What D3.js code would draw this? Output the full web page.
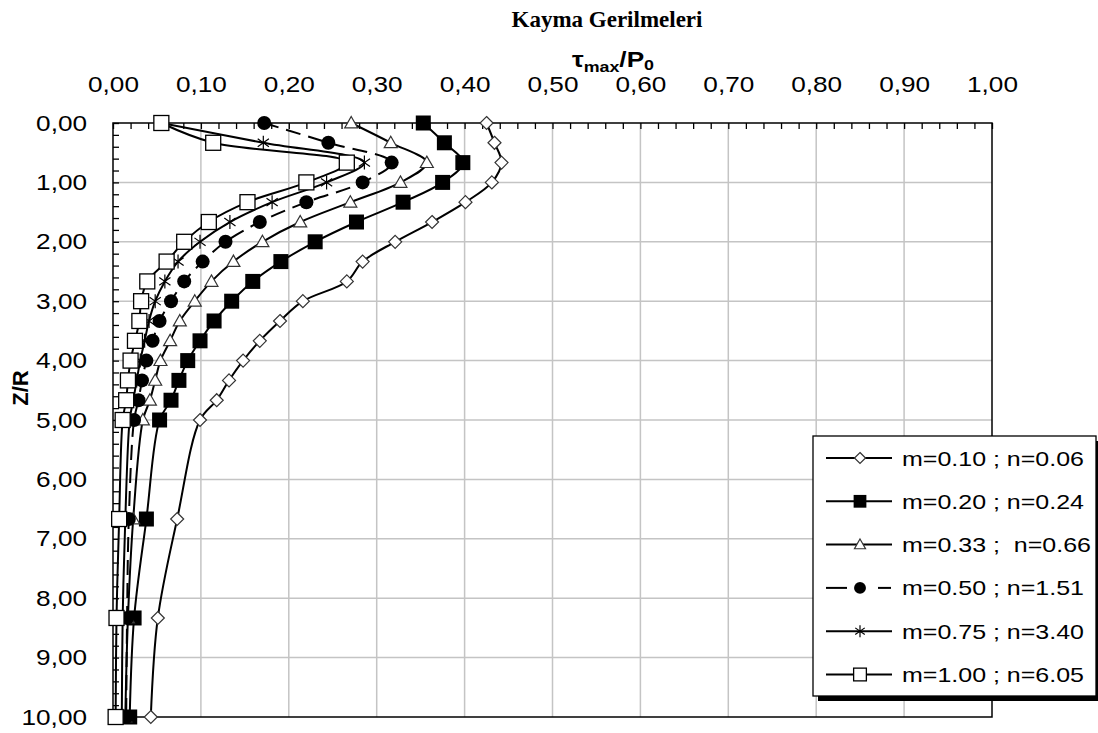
<!DOCTYPE html>
<html>
<head>
<meta charset="utf-8">
<script src="https://cdn.jsdelivr.net/npm/d3@7"></script>
<style>
  body { margin: 0; background: #fff; }
  svg { display: block; }
</style>
</head>
<body>
<div id="display"></div>
<script>
// depth values Z/R (rows)
const zValues = [0, 0.333, 0.667, 1, 1.333, 1.667, 2, 2.333, 2.667, 3, 3.333, 3.667, 4, 4.333, 4.667, 5, 6.667, 8.333, 10];

// tau_max / P0 for every series
const m010 = [0.425, 0.434, 0.442, 0.431, 0.401, 0.363, 0.321, 0.284, 0.266, 0.216, 0.190, 0.167, 0.148, 0.132, 0.118, 0.099, 0.073, 0.051, 0.043];
const m020 = [0.353, 0.377, 0.398, 0.375, 0.330, 0.277, 0.230, 0.191, 0.159, 0.135, 0.115, 0.099, 0.085, 0.075, 0.066, 0.053, 0.038, 0.024, 0.019];
const m033 = [0.271, 0.316, 0.357, 0.327, 0.270, 0.213, 0.170, 0.137, 0.112, 0.093, 0.076, 0.065, 0.054, 0.048, 0.042, 0.034, 0.023, 0.017, 0.014];
const m050 = [0.172, 0.245, 0.317, 0.284, 0.220, 0.167, 0.128, 0.102, 0.081, 0.066, 0.053, 0.045, 0.038, 0.033, 0.029, 0.024, 0.018, 0.016, 0.015];
const m075 = [0.055, 0.171, 0.286, 0.243, 0.181, 0.133, 0.099, 0.074, 0.059, 0.048, 0.041, 0.036, 0.031, 0.027, 0.023, 0.019, 0.014, 0.011, 0.010];
const m100 = [0.055, 0.114, 0.266, 0.220, 0.153, 0.109, 0.081, 0.061, 0.039, 0.032, 0.030, 0.025, 0.020, 0.017, 0.015, 0.011, 0.007, 0.004, 0.003];

const seriesNames = ['m=0.10 ; n=0.06', 'm=0.20 ; n=0.24', 'm=0.33 ;  n=0.66', 'm=0.50 ; n=1.51', 'm=0.75 ; n=3.40', 'm=1.00 ; n=6.05'];
const seriesValues = [m010, m020, m033, m050, m075, m100];
const seriesMarkers = ['diamond', 'filledSquare', 'triangle', 'circle', 'asterisk', 'square'];
const seriesDashed = [false, false, false, true, false, false];

const xTicks = [0, 0.1, 0.2, 0.3, 0.4, 0.5, 0.6, 0.7, 0.8, 0.9, 1.0];
const yTicks = [0, 1, 2, 3, 4, 5, 6, 7, 8, 9, 10];

const titleText = 'Kayma Gerilmeleri';
const yTitle = 'Z/R';

const svg = d3.select('#display')
    .append('svg')
    .attr('width', 1098)
    .attr('height', 733);

const sx = 1.19; // the original text is a bit wide
const pLeft = 113, pRight = 992, pTop = 123, pBottom = 717;

const x = d3.scaleLinear().domain([0, 1]).range([pLeft, pRight]);
const y = d3.scaleLinear().domain([0, 10]).range([pTop, pBottom]);
const fmt = v => d3.format('.2f')(v).replace('.', ',');

// grid
svg.append('g')
    .selectAll('line')
    .data(xTicks.slice(1, -1))
    .join('line')
    .attr('x1', d => x(d)).attr('x2', d => x(d))
    .attr('y1', pTop).attr('y2', pBottom)
    .attr('stroke', '#c4c4c4').attr('stroke-width', 1.5);

svg.append('g')
    .selectAll('line')
    .data(yTicks.slice(1, -1))
    .join('line')
    .attr('x1', pLeft).attr('x2', pRight)
    .attr('y1', d => y(d)).attr('y2', d => y(d))
    .attr('stroke', '#c4c4c4').attr('stroke-width', 1.5);

// minor ticks inside the frame
const topMinor = svg.append('g')
    .attr('transform', `translate(0,${pTop})`)
    .call(d3.axisTop(x).tickValues(d3.range(0, 1.001, 0.02)).tickSize(-6).tickFormat(''));
topMinor.select('.domain').remove();
topMinor.selectAll('line').attr('stroke', '#000').attr('stroke-width', 1.3);

const leftMinor = svg.append('g')
    .attr('transform', `translate(${pLeft},0)`)
    .call(d3.axisLeft(y).tickValues(d3.range(0, 10.001, 0.2)).tickSize(-6).tickFormat(''));
leftMinor.select('.domain').remove();
leftMinor.selectAll('line').attr('stroke', '#000').attr('stroke-width', 1.3);

// tick labels
const xAxis = svg.append('g')
    .attr('transform', `translate(0,${pTop})`)
    .call(d3.axisTop(x).tickValues(xTicks).tickSize(0).tickPadding(31).tickFormat(fmt));
xAxis.select('.domain').remove();
xAxis.selectAll('text')
    .attr('font-family', 'Liberation Sans, Arial, sans-serif')
    .attr('font-size', 22)
    .attr('fill', '#000')
    .attr('transform', `scale(${sx},1)`);

const yAxis = svg.append('g')
    .attr('transform', `translate(${pLeft},0)`)
    .call(d3.axisLeft(y).tickValues(yTicks).tickSize(0).tickFormat(fmt));
yAxis.select('.domain').remove();
yAxis.selectAll('text')
    .attr('x', -26 / sx)
    .attr('font-family', 'Liberation Sans, Arial, sans-serif')
    .attr('font-size', 22)
    .attr('fill', '#000')
    .attr('transform', `scale(${sx},1)`);

// frame
svg.append('rect')
    .attr('x', pLeft).attr('y', pTop)
    .attr('width', pRight - pLeft).attr('height', pBottom - pTop)
    .attr('fill', 'none').attr('stroke', '#000').attr('stroke-width', 1.5);

// markers
function marker(g, type, cx, cy, s) {
    if (type === 'diamond') {
        const h = 6.5 * s;
        g.append('path')
            .attr('d', `M${cx},${cy - h}L${cx + h},${cy}L${cx},${cy + h}L${cx - h},${cy}Z`)
            .attr('fill', '#fff').attr('stroke', '#333').attr('stroke-width', 1.2);
    } else if (type === 'filledSquare') {
        const h = 7.5 * s;
        g.append('rect').attr('x', cx - h).attr('y', cy - h).attr('width', 2 * h).attr('height', 2 * h)
            .attr('fill', '#000');
    } else if (type === 'square') {
        const h = 7.5 * s;
        g.append('rect').attr('x', cx - h).attr('y', cy - h).attr('width', 2 * h).attr('height', 2 * h)
            .attr('fill', '#fff').attr('stroke', '#000').attr('stroke-width', 1.3);
    } else if (type === 'triangle') {
        const h = 6.5 * s;
        g.append('path')
            .attr('d', `M${cx},${cy - h}L${cx + h},${cy + h * 0.75}L${cx - h},${cy + h * 0.75}Z`)
            .attr('fill', '#fff').attr('stroke', '#333').attr('stroke-width', 1.2);
    } else if (type === 'circle') {
        g.append('circle').attr('cx', cx).attr('cy', cy).attr('r', 7 * s).attr('fill', '#000');
    } else if (type === 'asterisk') {
        const h = 7 * s, d = h * 0.8;
        g.append('path')
            .attr('d', `M${cx},${cy - h}L${cx},${cy + h}M${cx - d},${cy - d * 0.7}L${cx + d},${cy + d * 0.7}M${cx - d},${cy + d * 0.7}L${cx + d},${cy - d * 0.7}`)
            .attr('fill', 'none').attr('stroke', '#000').attr('stroke-width', 1.2);
    }
}

const line = d3.line()
    .x(d => x(d[1]))
    .y(d => y(d[0]))
    .curve(d3.curveCatmullRom.alpha(0.5));

const plot = svg.append('g');
for (let i = 0; i < seriesValues.length; i++) {
    const pts = zValues.map((z, k) => [z, seriesValues[i][k]]);
    const g = plot.append('g');
    g.append('path')
        .attr('d', line(pts))
        .attr('fill', 'none')
        .attr('stroke', '#000')
        .attr('stroke-width', 2)
        .attr('stroke-dasharray', seriesDashed[i] ? '15,8' : null);
    pts.forEach(p => marker(g, seriesMarkers[i], x(p[1]), y(p[0]), 1));
}

// titles
svg.append('text')
    .attr('x', 607).attr('y', 27)
    .attr('text-anchor', 'middle')
    .attr('font-family', 'Liberation Serif, Times New Roman, serif')
    .attr('font-weight', 'bold')
    .attr('font-size', 23)
    .text(titleText);

const xTitle = svg.append('g')
    .attr('transform', `translate(613,67) scale(${sx},1)`)
    .append('text')
    .attr('text-anchor', 'middle')
    .attr('font-family', 'Liberation Sans, Arial, sans-serif')
    .attr('font-weight', 'bold')
    .attr('font-size', 22);
xTitle.append('tspan').text('τ');
xTitle.append('tspan').attr('font-size', 15).attr('dy', 5).text('max');
xTitle.append('tspan').attr('dy', -5).text('/P');
xTitle.append('tspan').attr('font-size', 15).attr('dy', 3).text('0');

svg.append('text')
    .attr('transform', `translate(28,388) rotate(-90)`)
    .attr('text-anchor', 'middle')
    .attr('font-family', 'Liberation Sans, Arial, sans-serif')
    .attr('font-weight', 'bold')
    .attr('font-size', 22)
    .text(yTitle);

// legend
const lg = svg.append('g');
lg.append('rect').attr('x', 818).attr('y', 441).attr('width', 283).attr('height', 260).attr('fill', '#000');
lg.append('rect').attr('x', 813).attr('y', 436).attr('width', 283).attr('height', 260)
    .attr('fill', '#fff').attr('stroke', '#000').attr('stroke-width', 1.3);

seriesNames.forEach((name, i) => {
    const cy = 458 + i * 43.3;
    const row = lg.append('g');
    if (seriesDashed[i]) {
        row.append('line').attr('x1', 826).attr('x2', 847).attr('y1', cy).attr('y2', cy)
            .attr('stroke', '#000').attr('stroke-width', 2);
        row.append('line').attr('x1', 878).attr('x2', 891).attr('y1', cy).attr('y2', cy)
            .attr('stroke', '#000').attr('stroke-width', 2);
    } else {
        row.append('line').attr('x1', 826).attr('x2', 892).attr('y1', cy).attr('y2', cy)
            .attr('stroke', '#000').attr('stroke-width', 2);
    }
    marker(row, seriesMarkers[i], 860, cy, 0.85);
    row.append('g')
        .attr('transform', `translate(902,${cy + 7.5}) scale(${sx},1)`)
        .append('text')
        .attr('font-family', 'Liberation Sans, Arial, sans-serif')
        .attr('font-size', 21)
        .style('white-space', 'pre')
        .text(name);
});
</script>
</body>
</html>
